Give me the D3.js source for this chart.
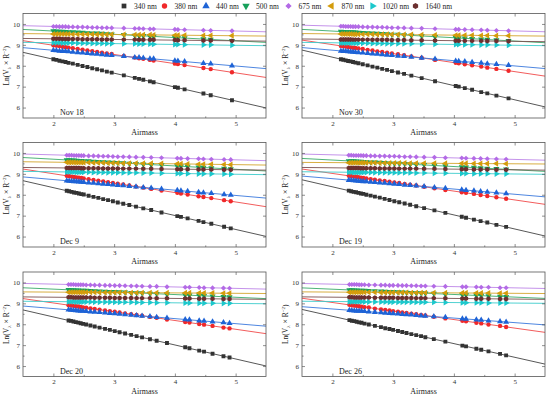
<!DOCTYPE html>
<html>
<head>
<meta charset="utf-8">
<script src="https://cdn.jsdelivr.net/npm/d3@7"></script>
<style>
body { margin: 0; background: #fff; }
text { font-family: "Liberation Serif", "DejaVu Serif", serif; }
</style>
</head>
<body>
<div id="chart"></div>
<script>
// series names and the six observation days
var wavelengths = ['340 nm', '380 nm', '440 nm', '500 nm', '675 nm', '870 nm', '1020 nm', '1640 nm'];
var panelLabels = ['Nov 18', 'Nov 30', 'Dec 9', 'Dec 19', 'Dec 20', 'Dec 26'];
var xTicks = [2, 3, 4, 5];
var yTicks = [6, 7, 8, 9, 10];

// Nov 18
var airmassNov18 = [2.00, 2.05, 2.10, 2.15, 2.20, 2.25, 2.32, 2.40, 2.48, 2.56, 2.64, 2.72, 2.80, 2.88, 2.96, 3.16, 3.34, 3.41, 3.48, 3.59, 3.65, 4.00, 4.05, 4.16, 4.47, 4.59, 4.94];
var lnNov18 = [
  [8.31, 8.28, 8.24, 8.21, 8.18, 8.14, 8.10, 8.04, 7.99, 7.94, 7.88, 7.83, 7.78, 7.72, 7.67, 7.54, 7.42, 7.37, 7.33, 7.25, 7.21, 6.98, 6.95, 6.87, 6.67, 6.59, 6.35],
  [8.98, 8.96, 8.94, 8.91, 8.89, 8.87, 8.84, 8.80, 8.77, 8.73, 8.70, 8.66, 8.63, 8.59, 8.56, 8.47, 8.39, 8.36, 8.33, 8.28, 8.25, 8.10, 8.08, 8.03, 7.89, 7.84, 7.69],
  [8.74, 8.73, 8.71, 8.70, 8.69, 8.68, 8.66, 8.64, 8.62, 8.60, 8.58, 8.56, 8.54, 8.52, 8.50, 8.45, 8.40, 8.39, 8.37, 8.34, 8.33, 8.24, 8.23, 8.20, 8.12, 8.09, 8.00],
  [9.66, 9.65, 9.64, 9.64, 9.63, 9.62, 9.61, 9.60, 9.59, 9.57, 9.56, 9.55, 9.54, 9.52, 9.51, 9.48, 9.45, 9.44, 9.43, 9.41, 9.40, 9.35, 9.34, 9.33, 9.28, 9.26, 9.20],
  [9.88, 9.88, 9.87, 9.87, 9.87, 9.86, 9.86, 9.85, 9.85, 9.84, 9.83, 9.83, 9.82, 9.82, 9.81, 9.80, 9.78, 9.78, 9.77, 9.76, 9.76, 9.74, 9.73, 9.72, 9.70, 9.69, 9.67],
  [9.52, 9.52, 9.52, 9.52, 9.52, 9.52, 9.51, 9.51, 9.51, 9.51, 9.51, 9.50, 9.50, 9.50, 9.50, 9.49, 9.48, 9.48, 9.48, 9.48, 9.47, 9.46, 9.46, 9.46, 9.45, 9.45, 9.44],
  [9.10, 9.10, 9.10, 9.09, 9.09, 9.09, 9.09, 9.08, 9.08, 9.08, 9.07, 9.07, 9.07, 9.06, 9.06, 9.05, 9.05, 9.04, 9.04, 9.04, 9.03, 9.02, 9.02, 9.01, 9.00, 9.00, 8.98],
  [9.29, 9.29, 9.29, 9.28, 9.28, 9.28, 9.28, 9.28, 9.27, 9.27, 9.27, 9.27, 9.26, 9.26, 9.26, 9.25, 9.25, 9.24, 9.24, 9.24, 9.24, 9.23, 9.22, 9.22, 9.21, 9.21, 9.19]
];

// Nov 30
var airmassNov30 = [2.14, 2.18, 2.22, 2.26, 2.30, 2.34, 2.38, 2.43, 2.50, 2.58, 2.66, 2.74, 2.82, 2.90, 2.98, 3.08, 3.18, 3.30, 3.47, 3.69, 4.03, 4.08, 4.18, 4.30, 4.45, 4.55, 4.70, 4.90];
var lnNov30 = [
  [8.31, 8.29, 8.26, 8.23, 8.21, 8.18, 8.15, 8.12, 8.07, 8.02, 7.96, 7.91, 7.85, 7.80, 7.74, 7.68, 7.61, 7.53, 7.41, 7.26, 7.03, 7.00, 6.93, 6.85, 6.74, 6.68, 6.57, 6.44],
  [8.95, 8.93, 8.92, 8.90, 8.88, 8.86, 8.85, 8.83, 8.80, 8.76, 8.73, 8.69, 8.66, 8.62, 8.59, 8.55, 8.50, 8.45, 8.38, 8.28, 8.14, 8.12, 8.07, 8.02, 7.96, 7.91, 7.85, 7.76],
  [8.71, 8.70, 8.69, 8.68, 8.67, 8.66, 8.65, 8.63, 8.62, 8.60, 8.58, 8.56, 8.54, 8.52, 8.50, 8.47, 8.45, 8.42, 8.37, 8.32, 8.23, 8.22, 8.20, 8.17, 8.13, 8.10, 8.07, 8.02],
  [9.64, 9.63, 9.62, 9.62, 9.61, 9.61, 9.60, 9.59, 9.58, 9.57, 9.55, 9.54, 9.53, 9.52, 9.50, 9.49, 9.47, 9.45, 9.42, 9.39, 9.34, 9.33, 9.31, 9.29, 9.27, 9.25, 9.23, 9.20],
  [9.89, 9.89, 9.88, 9.88, 9.88, 9.87, 9.87, 9.87, 9.86, 9.85, 9.85, 9.84, 9.84, 9.83, 9.82, 9.82, 9.81, 9.80, 9.79, 9.77, 9.74, 9.74, 9.73, 9.72, 9.71, 9.70, 9.69, 9.67],
  [9.52, 9.52, 9.52, 9.52, 9.52, 9.51, 9.51, 9.51, 9.51, 9.51, 9.51, 9.50, 9.50, 9.50, 9.50, 9.49, 9.49, 9.49, 9.48, 9.47, 9.46, 9.46, 9.46, 9.46, 9.45, 9.45, 9.44, 9.44],
  [9.09, 9.09, 9.09, 9.09, 9.09, 9.09, 9.08, 9.08, 9.08, 9.08, 9.07, 9.07, 9.07, 9.06, 9.06, 9.06, 9.05, 9.05, 9.04, 9.03, 9.02, 9.02, 9.01, 9.01, 9.00, 9.00, 8.99, 8.98],
  [9.26, 9.26, 9.26, 9.26, 9.26, 9.25, 9.25, 9.25, 9.25, 9.25, 9.24, 9.24, 9.24, 9.24, 9.23, 9.23, 9.23, 9.22, 9.22, 9.21, 9.20, 9.20, 9.19, 9.19, 9.19, 9.18, 9.18, 9.17]
];

// Dec 9
var airmassDec9 = [2.22, 2.26, 2.30, 2.34, 2.38, 2.42, 2.46, 2.50, 2.58, 2.66, 2.74, 2.82, 2.90, 2.98, 3.06, 3.15, 3.25, 3.36, 3.48, 3.61, 3.78, 4.04, 4.10, 4.21, 4.39, 4.47, 4.60, 4.81, 4.92];
var lnDec9 = [
  [8.19, 8.17, 8.14, 8.11, 8.09, 8.06, 8.03, 8.01, 7.95, 7.90, 7.85, 7.79, 7.74, 7.69, 7.63, 7.57, 7.51, 7.43, 7.35, 7.27, 7.15, 6.98, 6.94, 6.87, 6.75, 6.69, 6.61, 6.47, 6.39],
  [8.91, 8.89, 8.87, 8.85, 8.83, 8.82, 8.80, 8.78, 8.74, 8.71, 8.67, 8.64, 8.60, 8.56, 8.53, 8.49, 8.44, 8.39, 8.34, 8.28, 8.20, 8.09, 8.06, 8.01, 7.93, 7.89, 7.84, 7.74, 7.69],
  [8.67, 8.66, 8.65, 8.64, 8.63, 8.62, 8.61, 8.60, 8.58, 8.56, 8.54, 8.52, 8.50, 8.48, 8.46, 8.44, 8.41, 8.38, 8.35, 8.32, 8.28, 8.21, 8.19, 8.17, 8.12, 8.10, 8.07, 8.01, 7.99],
  [9.66, 9.66, 9.65, 9.65, 9.64, 9.63, 9.63, 9.62, 9.61, 9.59, 9.58, 9.57, 9.56, 9.54, 9.53, 9.52, 9.50, 9.48, 9.46, 9.44, 9.42, 9.37, 9.36, 9.35, 9.32, 9.30, 9.28, 9.25, 9.23],
  [9.89, 9.89, 9.89, 9.88, 9.88, 9.88, 9.87, 9.87, 9.86, 9.86, 9.85, 9.84, 9.84, 9.83, 9.82, 9.82, 9.81, 9.80, 9.79, 9.78, 9.77, 9.75, 9.74, 9.73, 9.72, 9.71, 9.70, 9.69, 9.68],
  [9.55, 9.55, 9.55, 9.55, 9.54, 9.54, 9.54, 9.54, 9.54, 9.53, 9.53, 9.53, 9.52, 9.52, 9.52, 9.51, 9.51, 9.51, 9.50, 9.50, 9.49, 9.48, 9.48, 9.47, 9.46, 9.46, 9.46, 9.45, 9.44],
  [9.09, 9.09, 9.09, 9.09, 9.08, 9.08, 9.08, 9.08, 9.08, 9.07, 9.07, 9.07, 9.06, 9.06, 9.06, 9.05, 9.05, 9.05, 9.04, 9.04, 9.03, 9.02, 9.02, 9.01, 9.00, 9.00, 9.00, 8.99, 8.98],
  [9.28, 9.28, 9.28, 9.28, 9.28, 9.28, 9.27, 9.27, 9.27, 9.27, 9.27, 9.26, 9.26, 9.26, 9.26, 9.25, 9.25, 9.25, 9.24, 9.24, 9.23, 9.22, 9.22, 9.22, 9.21, 9.21, 9.21, 9.20, 9.20]
];

// Dec 19
var airmassDec19 = [2.27, 2.31, 2.35, 2.39, 2.43, 2.47, 2.51, 2.56, 2.63, 2.70, 2.78, 2.86, 2.94, 3.02, 3.10, 3.19, 3.28, 3.38, 3.51, 3.68, 3.86, 4.13, 4.20, 4.33, 4.44, 4.55, 4.70, 4.86];
var lnDec19 = [
  [8.20, 8.17, 8.14, 8.12, 8.09, 8.06, 8.04, 8.00, 7.96, 7.91, 7.86, 7.80, 7.75, 7.69, 7.64, 7.58, 7.52, 7.45, 7.36, 7.25, 7.13, 6.95, 6.90, 6.81, 6.74, 6.67, 6.56, 6.46],
  [8.91, 8.89, 8.87, 8.86, 8.84, 8.82, 8.80, 8.78, 8.75, 8.72, 8.69, 8.66, 8.62, 8.59, 8.56, 8.52, 8.48, 8.44, 8.38, 8.31, 8.23, 8.12, 8.09, 8.04, 7.99, 7.94, 7.88, 7.81],
  [8.70, 8.69, 8.68, 8.67, 8.66, 8.65, 8.64, 8.63, 8.61, 8.60, 8.58, 8.56, 8.54, 8.52, 8.50, 8.47, 8.45, 8.43, 8.39, 8.35, 8.31, 8.24, 8.22, 8.19, 8.16, 8.13, 8.10, 8.06],
  [9.62, 9.61, 9.61, 9.60, 9.59, 9.59, 9.58, 9.57, 9.56, 9.55, 9.54, 9.53, 9.51, 9.50, 9.49, 9.48, 9.46, 9.45, 9.43, 9.40, 9.37, 9.33, 9.32, 9.30, 9.28, 9.26, 9.24, 9.22],
  [9.89, 9.89, 9.88, 9.88, 9.88, 9.88, 9.87, 9.87, 9.86, 9.86, 9.85, 9.85, 9.84, 9.84, 9.83, 9.82, 9.82, 9.81, 9.80, 9.79, 9.77, 9.76, 9.75, 9.74, 9.73, 9.72, 9.71, 9.70],
  [9.53, 9.53, 9.53, 9.53, 9.53, 9.53, 9.53, 9.53, 9.53, 9.53, 9.52, 9.52, 9.52, 9.52, 9.52, 9.52, 9.51, 9.51, 9.51, 9.51, 9.50, 9.50, 9.50, 9.49, 9.49, 9.49, 9.49, 9.48],
  [9.08, 9.08, 9.07, 9.07, 9.07, 9.07, 9.07, 9.07, 9.07, 9.06, 9.06, 9.06, 9.06, 9.05, 9.05, 9.05, 9.05, 9.04, 9.04, 9.03, 9.03, 9.02, 9.02, 9.01, 9.01, 9.01, 9.00, 9.00],
  [9.28, 9.28, 9.28, 9.28, 9.28, 9.27, 9.27, 9.27, 9.27, 9.27, 9.26, 9.26, 9.26, 9.26, 9.25, 9.25, 9.25, 9.25, 9.24, 9.24, 9.23, 9.22, 9.22, 9.21, 9.21, 9.21, 9.20, 9.20]
];

// Dec 20
var airmassDec20 = [2.25, 2.29, 2.33, 2.37, 2.41, 2.45, 2.49, 2.54, 2.61, 2.68, 2.76, 2.85, 2.93, 3.01, 3.09, 3.18, 3.28, 3.37, 3.46, 3.59, 3.70, 3.87, 4.17, 4.24, 4.40, 4.48, 4.62, 4.80, 4.90];
var lnDec20 = [
  [8.18, 8.16, 8.13, 8.10, 8.08, 8.05, 8.02, 7.99, 7.94, 7.89, 7.84, 7.78, 7.73, 7.67, 7.62, 7.56, 7.49, 7.43, 7.37, 7.28, 7.21, 7.10, 6.90, 6.85, 6.74, 6.69, 6.59, 6.47, 6.41],
  [8.91, 8.90, 8.88, 8.86, 8.85, 8.83, 8.81, 8.79, 8.76, 8.73, 8.70, 8.66, 8.63, 8.60, 8.56, 8.52, 8.48, 8.44, 8.41, 8.35, 8.31, 8.23, 8.11, 8.08, 8.01, 7.98, 7.92, 7.84, 7.80],
  [8.69, 8.68, 8.67, 8.66, 8.65, 8.64, 8.63, 8.62, 8.60, 8.59, 8.57, 8.55, 8.53, 8.51, 8.49, 8.47, 8.44, 8.42, 8.40, 8.37, 8.34, 8.30, 8.23, 8.21, 8.17, 8.15, 8.12, 8.08, 8.05],
  [9.65, 9.64, 9.64, 9.63, 9.63, 9.62, 9.62, 9.61, 9.60, 9.59, 9.58, 9.57, 9.56, 9.55, 9.54, 9.53, 9.51, 9.50, 9.49, 9.47, 9.46, 9.44, 9.40, 9.39, 9.37, 9.36, 9.34, 9.32, 9.30],
  [9.90, 9.90, 9.90, 9.89, 9.89, 9.89, 9.89, 9.88, 9.88, 9.87, 9.87, 9.86, 9.86, 9.85, 9.85, 9.84, 9.83, 9.83, 9.82, 9.81, 9.81, 9.79, 9.77, 9.77, 9.76, 9.75, 9.74, 9.73, 9.72],
  [9.53, 9.53, 9.53, 9.53, 9.53, 9.53, 9.53, 9.53, 9.53, 9.53, 9.52, 9.52, 9.52, 9.52, 9.52, 9.52, 9.51, 9.51, 9.51, 9.51, 9.51, 9.50, 9.50, 9.50, 9.49, 9.49, 9.49, 9.48, 9.48],
  [9.08, 9.08, 9.08, 9.07, 9.07, 9.07, 9.07, 9.07, 9.07, 9.06, 9.06, 9.06, 9.06, 9.05, 9.05, 9.05, 9.05, 9.04, 9.04, 9.04, 9.03, 9.03, 9.02, 9.02, 9.01, 9.01, 9.01, 9.00, 9.00],
  [9.29, 9.29, 9.28, 9.28, 9.28, 9.28, 9.28, 9.28, 9.28, 9.27, 9.27, 9.27, 9.27, 9.26, 9.26, 9.26, 9.26, 9.25, 9.25, 9.25, 9.24, 9.24, 9.23, 9.23, 9.22, 9.22, 9.22, 9.21, 9.21]
];

// Dec 26
var airmassDec26 = [2.28, 2.32, 2.36, 2.40, 2.44, 2.48, 2.53, 2.60, 2.70, 2.80, 2.87, 2.94, 3.00, 3.08, 3.15, 3.22, 3.30, 3.38, 3.46, 3.53, 3.67, 3.86, 4.14, 4.20, 4.37, 4.45, 4.57, 4.76, 4.86];
var lnDec26 = [
  [8.20, 8.17, 8.15, 8.12, 8.09, 8.07, 8.03, 7.99, 7.92, 7.86, 7.81, 7.77, 7.73, 7.68, 7.63, 7.58, 7.53, 7.48, 7.43, 7.38, 7.29, 7.17, 6.98, 6.94, 6.83, 6.78, 6.70, 6.58, 6.51],
  [8.93, 8.91, 8.89, 8.88, 8.86, 8.84, 8.82, 8.80, 8.75, 8.71, 8.69, 8.66, 8.63, 8.60, 8.57, 8.54, 8.51, 8.48, 8.45, 8.42, 8.36, 8.28, 8.17, 8.14, 8.07, 8.04, 7.99, 7.92, 7.87],
  [8.67, 8.66, 8.65, 8.64, 8.63, 8.63, 8.62, 8.60, 8.58, 8.56, 8.54, 8.53, 8.51, 8.50, 8.48, 8.47, 8.45, 8.43, 8.41, 8.40, 8.37, 8.33, 8.26, 8.25, 8.21, 8.20, 8.17, 8.13, 8.11],
  [9.64, 9.64, 9.63, 9.63, 9.62, 9.62, 9.61, 9.60, 9.59, 9.58, 9.57, 9.56, 9.55, 9.54, 9.53, 9.52, 9.51, 9.50, 9.49, 9.48, 9.47, 9.44, 9.41, 9.40, 9.38, 9.37, 9.35, 9.33, 9.32],
  [9.90, 9.90, 9.90, 9.90, 9.89, 9.89, 9.89, 9.88, 9.88, 9.87, 9.87, 9.86, 9.86, 9.86, 9.85, 9.85, 9.84, 9.84, 9.83, 9.83, 9.82, 9.81, 9.79, 9.79, 9.78, 9.77, 9.77, 9.75, 9.75],
  [9.53, 9.53, 9.53, 9.53, 9.53, 9.53, 9.53, 9.53, 9.53, 9.52, 9.52, 9.52, 9.52, 9.52, 9.52, 9.52, 9.51, 9.51, 9.51, 9.51, 9.51, 9.50, 9.50, 9.50, 9.49, 9.49, 9.49, 9.48, 9.48],
  [9.08, 9.08, 9.08, 9.08, 9.08, 9.08, 9.07, 9.07, 9.07, 9.07, 9.07, 9.06, 9.06, 9.06, 9.06, 9.06, 9.06, 9.05, 9.05, 9.05, 9.05, 9.04, 9.03, 9.03, 9.03, 9.03, 9.02, 9.02, 9.02],
  [9.29, 9.29, 9.28, 9.28, 9.28, 9.28, 9.28, 9.28, 9.27, 9.27, 9.27, 9.27, 9.27, 9.26, 9.26, 9.26, 9.26, 9.25, 9.25, 9.25, 9.25, 9.24, 9.23, 9.23, 9.22, 9.22, 9.22, 9.21, 9.21]
];

var panels = [
  {label: panelLabels[0], airmass: airmassNov18, ln: lnNov18},
  {label: panelLabels[1], airmass: airmassNov30, ln: lnNov30},
  {label: panelLabels[2], airmass: airmassDec9, ln: lnDec9},
  {label: panelLabels[3], airmass: airmassDec19, ln: lnDec19},
  {label: panelLabels[4], airmass: airmassDec20, ln: lnDec20},
  {label: panelLabels[5], airmass: airmassDec26, ln: lnDec26}
];

// styles
var colors = ['#333333', '#f0282a', '#1e63d6', '#16a05a', '#b36ae6', '#d49c0c', '#1cc8cc', '#6b2f2f'];
var lineColors = ['#444444', '#f04a4a', '#3a78dc', '#3aaa6a', '#bd86e8', '#d4a52c', '#3ccccc', '#7a5050'];

var hexagon = {
  draw: function(ctx, size) {
    var r = Math.sqrt(size / 2.598);
    for (var k = 0; k < 6; k++) {
      var a = Math.PI / 3 * k + Math.PI / 6;
      if (k === 0) ctx.moveTo(r * Math.cos(a), r * Math.sin(a));
      else ctx.lineTo(r * Math.cos(a), r * Math.sin(a));
    }
    ctx.closePath();
  }
};
var shapes = [
  {type: d3.symbolSquare, rot: 0, size: 15},
  {type: d3.symbolCircle, rot: 0, size: 15},
  {type: d3.symbolTriangle, rot: 0, size: 16},
  {type: d3.symbolTriangle, rot: 180, size: 16},
  {type: d3.symbolSquare, rot: 45, size: 13},
  {type: d3.symbolTriangle, rot: -90, size: 16},
  {type: d3.symbolTriangle, rot: 90, size: 16},
  {type: hexagon, rot: 0, size: 16}
];

function fit(xs, ys) {
  var mx = d3.mean(xs), my = d3.mean(ys), sxy = 0, sxx = 0;
  for (var i = 0; i < xs.length; i++) {
    sxy += (xs[i] - mx) * (ys[i] - my);
    sxx += (xs[i] - mx) * (xs[i] - mx);
  }
  var b = sxy / sxx;
  return {a: my - b * mx, b: b};
}

var svg = d3.select('#chart').append('svg')
  .attr('width', 550)
  .attr('height', 399);

// legend
var legendX = [124, 164.5, 206, 246, 288.5, 331.5, 372.5, 415.5];
var legend = svg.append('g');
wavelengths.forEach(function(w, i) {
  legend.append('path')
    .attr('d', d3.symbol().type(shapes[i].type).size(shapes[i].size * 1.5)())
    .attr('transform', 'translate(' + legendX[i] + ',6) rotate(' + shapes[i].rot + ')')
    .attr('fill', colors[i]);
  legend.append('text')
    .attr('x', legendX[i] + 10)
    .attr('y', 8.5)
    .attr('font-size', '7.5px')
    .attr('fill', '#222')
    .text(w);
});

var colX = [23, 302];
var rowY = [13.5, 142.5, 272];
var pw = 243, ph = 104.5;

panels.forEach(function(p, pi) {
  var g = svg.append('g')
    .attr('transform', 'translate(' + colX[pi % 2] + ',' + rowY[Math.floor(pi / 2)] + ')');

  var x = d3.scaleLinear().domain([1.5, 5.5]).range([0, pw]);
  var y = d3.scaleLinear().domain([5.5, 10.5]).range([ph, 0]);

  var clipId = 'clip' + pi;
  g.append('clipPath').attr('id', clipId)
    .append('rect').attr('width', pw).attr('height', ph);

  var plot = g.append('g').attr('clip-path', 'url(#' + clipId + ')');

  // fitted lines
  p.ln.forEach(function(vals, si) {
    var f = fit(p.airmass, vals);
    plot.append('line')
      .attr('x1', x(1.5)).attr('y1', y(f.a + f.b * 1.5))
      .attr('x2', x(5.5)).attr('y2', y(f.a + f.b * 5.5))
      .attr('stroke', lineColors[si])
      .attr('stroke-width', 0.9);
  });

  // points
  p.ln.forEach(function(vals, si) {
    var sym = d3.symbol().type(shapes[si].type).size(shapes[si].size)();
    plot.append('g').selectAll('path')
      .data(vals.map(function(v, k) { return [p.airmass[k], v]; }))
      .enter()
      .append('path')
      .attr('d', sym)
      .attr('transform', function(d) {
        return 'translate(' + x(d[0]) + ',' + y(d[1]) + ') rotate(' + shapes[si].rot + ')';
      })
      .attr('fill', colors[si]);
  });

  // axes with inward ticks
  var axB = g.append('g').attr('transform', 'translate(0,' + ph + ')')
    .call(d3.axisBottom(x).tickValues(xTicks).tickSizeInner(-3).tickSizeOuter(0).tickPadding(3).tickFormat(d3.format('d')));
  g.append('g').attr('transform', 'translate(0,' + ph + ')')
    .call(d3.axisBottom(x).tickValues([2.5, 3.5, 4.5]).tickSizeInner(-1.6).tickSizeOuter(0).tickFormat(''));
  var axL = g.append('g')
    .call(d3.axisLeft(y).tickValues(yTicks).tickSizeInner(-3).tickSizeOuter(0).tickPadding(3).tickFormat(d3.format('d')));
  g.append('g')
    .call(d3.axisLeft(y).tickValues([6.5, 7.5, 8.5, 9.5]).tickSizeInner(-1.6).tickSizeOuter(0).tickFormat(''));
  g.append('g')
    .call(d3.axisTop(x).tickValues(xTicks).tickSizeInner(-3).tickSizeOuter(0).tickFormat(''));
  g.append('g').attr('transform', 'translate(' + pw + ',0)')
    .call(d3.axisRight(y).tickValues(yTicks).tickSizeInner(-3).tickSizeOuter(0).tickFormat(''));

  g.selectAll('.domain').remove();
  g.selectAll('.tick line').attr('stroke', '#444').attr('stroke-width', 0.6);
  g.selectAll('.tick text')
    .attr('font-family', '"Liberation Serif", serif')
    .attr('font-size', '7px')
    .attr('fill', '#333');

  g.append('rect')
    .attr('width', pw).attr('height', ph)
    .attr('fill', 'none')
    .attr('stroke', '#555')
    .attr('stroke-width', 0.8);

  g.append('text')
    .attr('x', 37).attr('y', ph - 3)
    .attr('font-size', '8px')
    .attr('fill', '#222')
    .text(p.label);

  g.append('text')
    .attr('x', pw / 2).attr('y', ph + 17)
    .attr('text-anchor', 'middle')
    .attr('font-size', '8px')
    .attr('fill', '#222')
    .text('Airmass');

  var yl = g.append('text')
    .attr('transform', 'translate(-14,' + (ph / 2) + ') rotate(-90)')
    .attr('text-anchor', 'middle')
    .attr('font-size', '7.5px')
    .attr('fill', '#222');
  yl.append('tspan').text('Ln(V');
  yl.append('tspan').attr('font-size', '5px').attr('dy', 1.5).text('λ');
  yl.append('tspan').attr('dy', -1.5).text(' × R');
  yl.append('tspan').attr('font-size', '5px').attr('dy', -3).text('−2');
  yl.append('tspan').attr('dy', 3).text(')');
});
</script>
</body>
</html>
